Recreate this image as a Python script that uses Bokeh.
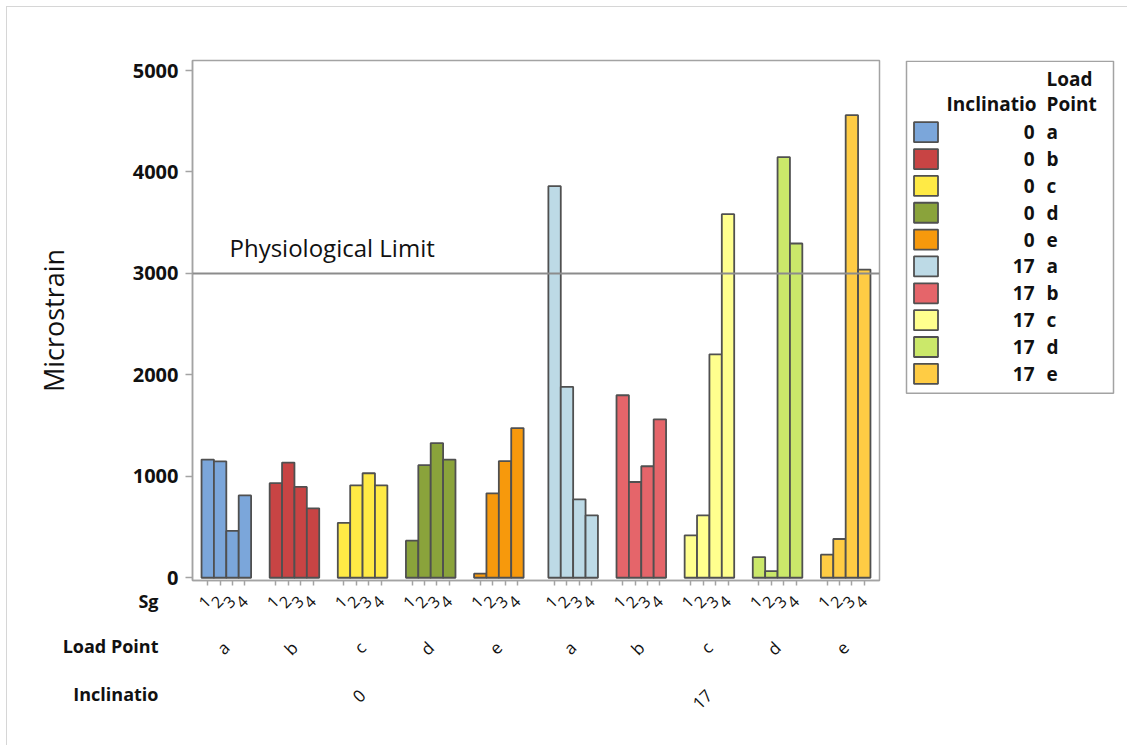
from bokeh.plotting import figure
from bokeh.models import (Range1d, FixedTicker, LinearAxis, Span, Label, Title,
                          ColumnDataSource)
from bokeh.layouts import row
from bokeh.embed import file_html
from bokeh.resources import INLINE
from bokeh.core.properties import value

# ---------------- data ----------------
inclinations = ["0", "17"]
load_points = ["a", "b", "c", "d", "e"]
sg_labels = ["1", "2", "3", "4"]

v_0_a = [1165, 1148, 462, 812]
v_0_b = [932, 1135, 895, 684]
v_0_c = [542, 911, 1030, 911]
v_0_d = [366, 1110, 1328, 1165]
v_0_e = [40, 832, 1150, 1476]
v_17_a = [3860, 1882, 773, 615]
v_17_b = [1799, 944, 1099, 1562]
v_17_c = [418, 615, 2203, 3584]
v_17_d = [204, 66, 4146, 3295]
v_17_e = [228, 382, 4560, 3038]

series_values = [v_0_a, v_0_b, v_0_c, v_0_d, v_0_e,
                 v_17_a, v_17_b, v_17_c, v_17_d, v_17_e]
series_colors = ["#7BA6DA", "#C84444", "#FFEA45", "#8AA33B", "#F7990C",
                 "#BDDAE6", "#E5656A", "#FFFF8E", "#CBE86A", "#FFCC44"]

y_ticks = [0, 1000, 2000, 3000, 4000, 5000]
limit_value = 3000
limit_label = "Physiological Limit"
row_titles = ["Sg", "Load Point", "Inclinatio"]
legend_header_incl = "Inclinatio"
legend_header_lp = ["Load", "Point"]

# ---------------- layout helpers ----------------
GROUP_STEP = 5.5     # 4 bars + 1.5 gap
INCL_GAP = 0.5       # extra gap between inclinations
PAD = 0.73
Y0, Y1 = -27, 5099

xs, tops, fills = [], [], []
group_centers, group_labels = [], []
incl_members = {k: [] for k in range(len(inclinations))}
series_incl, series_lp = [], []
g = 0
for k, inc in enumerate(inclinations):
    for lp in load_points:
        vals = series_values[g]
        base = g * GROUP_STEP + k * INCL_GAP
        for i, v in enumerate(vals):
            xs.append(base + i + 0.5)
            tops.append(v)
            fills.append(series_colors[g])
        c = base + len(vals) / 2
        group_centers.append(c)
        group_labels.append(lp)
        incl_members[k].append(c)
        series_incl.append(inc)
        series_lp.append(lp)
        g += 1

incl_centers = [sum(incl_members[k]) / len(incl_members[k]) for k in range(len(inclinations))]
x_end = xs[-1] + 0.5 + PAD

FONT = "Open Sans"
GRAY = "#a3a3a3"
TXT = "#111111"

p = figure(width=888, height=738, x_range=Range1d(-PAD, x_end),
           y_range=Range1d(Y0, Y1), output_backend="svg",
           toolbar_location=None, min_border_left=185, min_border_right=16,
           min_border_top=53, min_border_bottom=165)
p.xgrid.visible = False
p.ygrid.visible = False
p.outline_line_color = GRAY
p.outline_line_width = 1.5
p.background_fill_color = "white"
p.border_fill_color = "white"

src = ColumnDataSource(dict(x=xs, top=tops, fill=fills))
p.vbar(x="x", top="top", bottom=0, width=1.0, source=src, fill_color="fill",
       line_color="#505050", line_width=1.8)

p.add_layout(Span(location=limit_value, dimension="width", line_color="#8c8c8c",
                  line_width=2))
p.add_layout(Label(x=37, x_units="screen", y=limit_value, y_offset=26,
                   text=limit_label, text_font=FONT, text_font_size="24px",
                   text_color=TXT, text_baseline="alphabetic"))

# y axis
ya = p.yaxis[0]
ya.ticker = FixedTicker(ticks=y_ticks)
ya.axis_line_color = GRAY
ya.axis_line_width = 1.5
ya.major_tick_line_color = GRAY
ya.major_tick_line_width = 1.5
ya.major_tick_out = 7
ya.major_tick_in = 0
ya.minor_tick_line_color = None
ya.major_label_text_font = FONT
ya.major_label_text_font_size = "20px"
ya.major_label_text_font_style = "bold"
ya.major_label_text_color = TXT
ya.major_label_standoff = 7
ya.axis_label = "Microstrain"
ya.axis_label_text_font = FONT
ya.axis_label_text_font_size = "27px"
ya.axis_label_text_font_style = "normal"
ya.axis_label_text_color = TXT
ya.axis_label_standoff = 58

# Sg axis
xa = p.xaxis[0]
xa.ticker = FixedTicker(ticks=xs)
xa.major_label_overrides = {x: sg_labels[i % len(sg_labels)] for i, x in enumerate(xs)}
xa.axis_line_color = GRAY
xa.axis_line_width = 1.5
xa.major_tick_line_color = GRAY
xa.major_tick_line_width = 1.5
xa.major_tick_out = 5
xa.major_tick_in = 0
xa.minor_tick_line_color = None
xa.major_label_orientation = 0.785398
xa.major_label_text_font = FONT
xa.major_label_text_font_size = "16px"
xa.major_label_text_color = TXT
xa.major_label_standoff = 13

# Load point axis
lpa = LinearAxis(ticker=FixedTicker(ticks=group_centers),
                 major_label_overrides={c: group_labels[i] for i, c in enumerate(group_centers)})
lpa.axis_line_color = None
lpa.major_tick_line_color = None
lpa.minor_tick_line_color = None
lpa.major_tick_out = 0
lpa.major_tick_in = 0
lpa.major_label_orientation = 0.785398
lpa.major_label_text_font = FONT
lpa.major_label_text_font_size = "17px"
lpa.major_label_text_color = TXT
lpa.major_label_standoff = 28
p.add_layout(lpa, "below")

# Inclination axis
ina = LinearAxis(ticker=FixedTicker(ticks=incl_centers),
                 major_label_overrides={c: inclinations[i] for i, c in enumerate(incl_centers)})
ina.axis_line_color = None
ina.major_tick_line_color = None
ina.minor_tick_line_color = None
ina.major_tick_out = 0
ina.major_tick_in = 0
ina.major_label_orientation = 0.785398
ina.major_label_text_font = FONT
ina.major_label_text_font_size = "17px"
ina.major_label_text_color = TXT
ina.major_label_standoff = 21
p.add_layout(ina, "below")

# row titles: titles in the bottom panel, each pulled up beside its category row
PX_PER_LH = 23.83        # line pitch per unit line height at 18px
AXES_SPAN = 142          # measured depth of the three x-axis bands (px)
row_centers = [24, 66, 112]   # px below the frame bottom
extra_lines = [11, 7, 4]
BAND = 6
t_top = AXES_SPAN
for label, c, m in zip(row_titles, row_centers, extra_lines):
    L = (BAND - 2 + 2 * (t_top - c)) / m
    s = 2 * (c - L / 2 - t_top)
    p.add_layout(Title(text=label + "\n" * m, align="right", offset=721, standoff=s,
                       vertical_align="top", text_font=FONT, text_font_size="18px",
                       text_font_style="bold", text_color=TXT,
                       text_line_height=L / PX_PER_LH), "below")
    t_top += BAND

# ---------------- legend figure (page pixel coordinates) ----------------
q = figure(width=232, height=738, x_range=Range1d(895, 1127), y_range=Range1d(580, 60),
           output_backend="svg", toolbar_location=None, x_axis_location=None,
           y_axis_location=None, min_border_left=0, min_border_right=0,
           min_border_top=53, min_border_bottom=165)
q.xgrid.visible = False
q.ygrid.visible = False
q.outline_line_color = None
q.border_fill_color = "white"
q.background_fill_color = "white"

n = len(series_colors)
row_y = [131.7 + 26.85 * i for i in range(n)]
q.quad(left=[906], right=[1113], top=[60.7], bottom=[392.7], fill_color="white",
       line_color=GRAY, line_width=1.5)
q.quad(left=[913.5] * n, right=[937.5] * n, top=[y - 10 for y in row_y],
       bottom=[y + 10 for y in row_y], fill_color=series_colors,
       line_color="#505050", line_width=1.8)
q.text(x=[1034] * n, y=row_y, text=series_incl, text_font=value(FONT),
       text_font_size="19px", text_font_style="bold", text_color=TXT,
       text_align="right", text_baseline="middle")
q.text(x=[1046] * n, y=row_y, text=series_lp, text_font=value(FONT),
       text_font_size="19px", text_font_style="bold", text_color=TXT,
       text_align="left", text_baseline="middle")
q.text(x=[1046, 1046], y=[78, 103], text=legend_header_lp,
       text_font=value(FONT), text_font_size="19px", text_font_style="bold",
       text_color=TXT, text_align="left", text_baseline="middle")
q.text(x=[1036], y=[103], text=[legend_header_incl],
       text_font=value(FONT), text_font_size="19px", text_font_style="bold",
       text_color=TXT, text_align="right", text_baseline="middle")

layout = row(p, q, styles={"margin-left": "6px", "margin-top": "6px",
                           "border-top": "1px solid #d6d6d6",
                           "border-left": "1px solid #d6d6d6"})

open("out.html", "w").write(file_html(layout, INLINE))
